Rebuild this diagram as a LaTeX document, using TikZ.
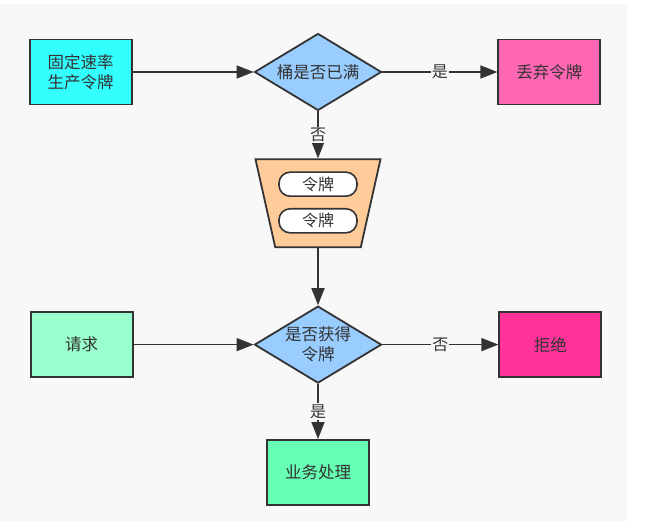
\documentclass[tikz,border=0pt]{standalone}
\usepackage{fontspec}
\setmainfont{Noto Sans CJK SC}
\usetikzlibrary{arrows.meta,positioning,shapes.geometric}
\definecolor{Ink}{HTML}{333333}
\definecolor{Paper}{HTML}{F8F8F8}
\definecolor{Cyan}{HTML}{33FFFF}
\definecolor{Sky}{HTML}{99CCFF}
\definecolor{Rose}{HTML}{FF66B3}
\definecolor{Peach}{HTML}{FFCC99}
\definecolor{Mint}{HTML}{99FFCC}
\definecolor{Magenta}{HTML}{FF3399}
\definecolor{Spring}{HTML}{66FFB3}
\tikzset{
  stepbox/.style={
    draw=Ink, line width=1.8pt, text=Ink, align=center,
    minimum width=102pt, minimum height=65pt, font=\fontsize{16.5}{20}\selectfont
  },
  decision/.style={
    diamond, draw=Ink, line width=1.8pt, fill=Sky, text=Ink, align=center,
    aspect=1.65, inner sep=0pt, minimum width=127pt, minimum height=77pt,
    font=\fontsize{16.5}{20}\selectfont
  },
  bucketbox/.style={
    trapezium, shape border rotate=180, trapezium stretches=true,
    trapezium left angle=77, trapezium right angle=77,
    draw=Ink, line width=1.8pt, fill=Peach,
    minimum width=125pt, minimum height=88pt
  },
  token/.style={
    rounded corners=11pt, draw=Ink, line width=1.6pt, fill=white, text=Ink,
    minimum width=78pt, minimum height=24pt, inner sep=0pt,
    font=\fontsize{16}{18}\selectfont
  },
  tag/.style={fill=Paper, text=Ink, inner sep=1pt, font=\fontsize{16}{18}\selectfont},
  flow/.style={-{Triangle[length=17pt,width=13pt]}, line width=1.6pt, draw=Ink}
}

\begin{document}
\begin{tikzpicture}[node distance=47pt and 118pt]
    \useasboundingbox (0,0) rectangle (652pt,-521pt);
    \fill[white] (0,0) rectangle (652pt,-521pt);
    \fill[Paper] (0,-4pt) rectangle (627pt,-521pt);
    % upper row: producing tokens
    \node[decision] (full) at (318pt,-72pt) {桶是否已满};
    \node[stepbox,fill=Cyan,left=121pt of full] (produce) {固定速率\\生产令牌};
    \node[stepbox,fill=Rose,right=115pt of full] (discard) {丢弃令牌};
    \node[bucketbox,below=of full] (bucket) {};
    \node[token,below=13pt of bucket.north] (tok1) {令牌};
    \node[token,below=11pt of tok1] (tok2) {令牌};
    % lower row: consuming tokens
    \node[decision,below=57pt of bucket] (got) {是否获得\\令牌};
    \node[stepbox,fill=Mint,left=120pt of got] (request) {请求};
    \node[stepbox,fill=Magenta,right=116pt of got] (reject) {拒绝};
    \node[stepbox,fill=Spring,below=55pt of got] (work) {业务处理};
    \draw[flow] (produce)--(full);
    \draw[flow] (full)--node[tag]{是}(discard);
    \draw[flow] (full)--node[tag]{否}(bucket);
    \draw[flow] (bucket)--(got);
    \draw[flow] (request)--(got);
    \draw[flow] (got)--node[tag]{否}(reject);
    \draw[flow] (got)--node[tag]{是}(work);
  \end{tikzpicture}
\end{document}
